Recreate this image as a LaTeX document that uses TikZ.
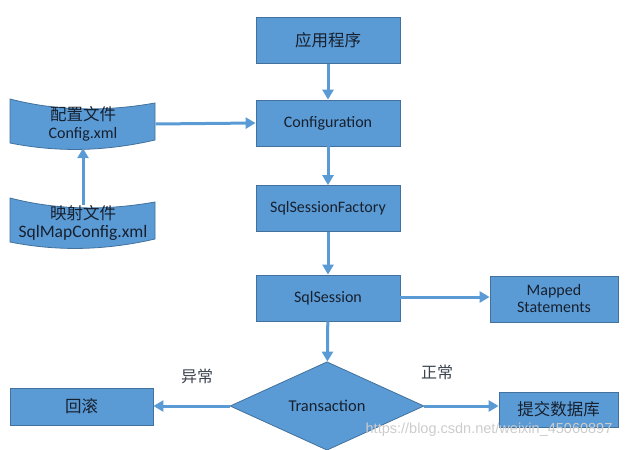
\documentclass[tikz,border=0pt]{standalone}
\usepackage{fontspec}
\setmainfont{Carlito}
\newfontfamily\cjk{Noto Sans CJK SC}
\newfontfamily\wmfont{Liberation Sans}
\usetikzlibrary{arrows.meta,shapes.geometric,calc}
\definecolor{boxfill}{HTML}{5B9BD5}
\definecolor{boxline}{HTML}{41719C}
\definecolor{txt}{HTML}{17202E}
\tikzset{
  box/.style={rectangle, fill=boxfill, draw=boxline, line width=0.8pt,
    minimum width=144pt, minimum height=46pt, inner sep=0pt, text=txt,
    font=\fontsize{16}{18}\selectfont, align=center},
  cn/.style={font=\cjk\fontsize{16.5}{20}\selectfont},
  docshape/.style={fill=boxfill, draw=boxline, line width=0.8pt},
  doctext/.style={rectangle, minimum width=145pt, minimum height=48pt, inner sep=0pt,
    align=center, text=txt, font=\fontsize{16}{18}\selectfont},
  flow/.style={draw=boxfill, line width=3pt, -{Triangle[length=10pt,width=11pt]}},
  lbl/.style={text=txt!85, font=\cjk\fontsize{16}{19}\selectfont},
}
\begin{document}
\begin{tikzpicture}[x=1pt,y=-1pt]
\useasboundingbox (0,0) rectangle (636,449);

% document (punched tape) shapes
\path[docshape] (10,99) .. controls (60,112) and (110,111) .. (155,103)
  -- (155,140) .. controls (120,148) and (70,155) .. (10,143) -- cycle;
\path[docshape] (10,198) .. controls (60,211) and (110,210) .. (155,202)
  -- (155,239) .. controls (120,247) and (70,254) .. (10,242) -- cycle;

\node[doctext] (doc1) at (83,124) {{\cjk\fontsize{16.5}{20}\selectfont 配置文件}\\[0pt]Config.xml};
\node[doctext] (doc2) at (83,223) {{\cjk\fontsize{16.5}{20}\selectfont 映射文件}\\[0pt]{\fontsize{17.5}{20}\selectfont SqlMapConfig.xml}};

% main column
\node[box, cn] (app) at (328,40.5) {应用程序};
\node[box] (cfg) at (328,123) {Configuration};
\node[box] (fac) at (328,208.5) {SqlSessionFactory};
\node[box] (ses) at (328,298) {SqlSession};
\node[box, minimum width=128pt] (map) at (554,299) {Mapped\\[-1pt]Statements};
\node[diamond, fill=boxfill, draw=boxline, line width=0.8pt, minimum width=194pt,
  minimum height=80pt, inner sep=0pt, text=txt, font=\fontsize{16.5}{18}\selectfont] (tx) at (327,406) {Transaction};
\node[box, cn, minimum width=143pt, minimum height=37pt] (rb) at (81.5,406.5) {回滚};
\node[box, cn, minimum width=119pt, minimum height=35pt] (db) at (558.5,409.5) {提交数据库};

% connectors
\draw[flow] (app) -- (cfg);
\draw[flow] (cfg) -- (fac);
\draw[flow] (fac) -- (ses);
\draw[flow] (ses) -- (tx);
\draw[flow] (ses.east |- 0,297) -- (map.west |- 0,297);
\draw[flow] (tx.west) -- (rb.east |- tx.west);
\draw[flow] (tx.east) -- (db.west |- tx.east);
\draw[flow] (doc1.east) -- (cfg.west);
\draw[flow] ([yshift=-6pt]doc2.north) -- (doc1.south);

% labels
\node[lbl] (l1) at (197,376) {异常};
\node[lbl] (l2) at (437,372) {正常};

% watermark
\node[text=gray!40, font=\wmfont\fontsize{14.5}{17}\selectfont] (wm) at (489,430) {https://blog.csdn.net/weixin\_45060897};
\end{tikzpicture}
\end{document}
